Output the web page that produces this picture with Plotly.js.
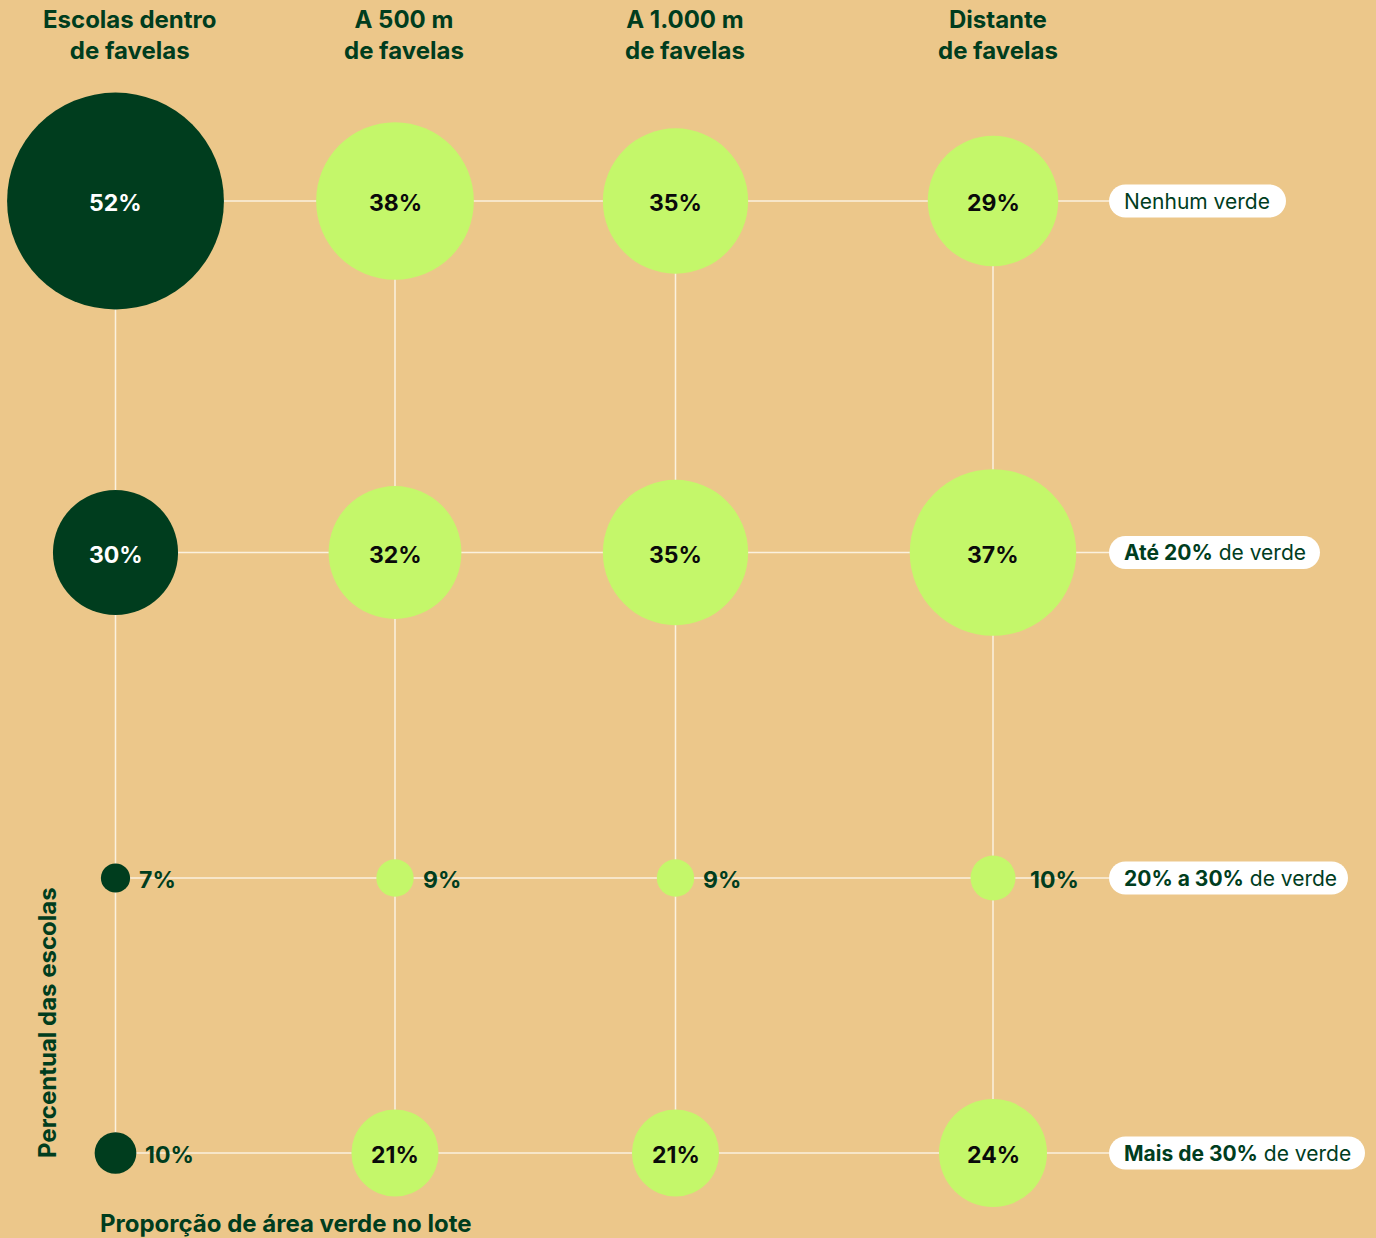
<!DOCTYPE html>
<html><head><meta charset="utf-8">
<script src="https://cdn.plot.ly/plotly-3.0.1.min.js"></script>
<style>html,body{margin:0;padding:0;background:#ECC78A;} #chart{width:1376px;height:1238px;}</style>
</head><body><div id="chart"></div>
<script>
// ---- data ----
const columns = ["Escolas dentro<br>de favelas", "A 500 m<br>de favelas", "A 1.000 m<br>de favelas", "Distante<br>de favelas"];
const rowLabels = ["Nenhum verde", "<b>Até 20%</b> de verde", "<b>20% a 30%</b> de verde", "<b>Mais de 30%</b> de verde"];
const dentro = [52, 30, 7, 10];
const a500 = [38, 32, 9, 21];
const a1000 = [35, 35, 9, 21];
const distante = [29, 37, 10, 24];
const yTitle = "Percentual das escolas";
const xTitle = "Proporção de área verde no lote";

// ---- layout / style constants ----
const series = [dentro, a500, a1000, distante];
const colX = [115.5, 395, 675.5, 993];
const rowY = [201, 552.5, 878, 1153];
const headerX = [129.5, 404, 685, 998];
const colScale = [4.17, 4.15, 4.15, 4.5];
const labelGap = [7, 7, 7, 12];
const colColor = ["#003D1E", "#C4F76A", "#C4F76A", "#C4F76A"];
const insideText = ["#FFFFFF", "#0A0A0A", "#0A0A0A", "#0A0A0A"];
const pillX0 = 1109, pillH = 33;
const pillW = [177, 211, 239, 256];
const DARK = "#003D1E";
const LINE = "#FBF1DE";
const FONT = "Inter, 'Noto Sans', sans-serif";

const traces = [];
const annotations = [];
const shapes = [];

// grid lines
rowY.forEach(y => shapes.push({type: 'line', layer: 'below', x0: colX[0], x1: pillX0, y0: y, y1: y,
  line: {color: LINE, width: 1.5}}));
colX.forEach(x => shapes.push({type: 'line', layer: 'below', x0: x, x1: x, y0: rowY[0], y1: rowY[rowY.length - 1],
  line: {color: LINE, width: 1.5}}));

// bubbles
series.forEach((vals, c) => {
  traces.push({
    type: 'scatter', mode: 'markers', hoverinfo: 'skip',
    x: vals.map(() => colX[c]), y: rowY,
    marker: {size: vals.map(v => v * colScale[c]), sizemode: 'diameter', color: colColor[c], line: {width: 0}, opacity: 1}
  });
  vals.forEach((v, r) => {
    const d = v * colScale[c];
    if (v >= 15) {
      annotations.push({x: colX[c], y: rowY[r], text: v + '%', showarrow: false, xanchor: 'center', yanchor: 'middle', yshift: -2,
        font: {family: FONT, size: 23, weight: 700, color: insideText[c]}});
    } else {
      annotations.push({x: colX[c], y: rowY[r], text: v + '%', showarrow: false, xanchor: 'left', yanchor: 'middle', xshift: d / 2 + labelGap[c], yshift: -2,
        font: {family: FONT, size: 23, weight: 700, color: DARK}});
    }
  });
});

// headers
columns.forEach((t, c) => annotations.push({x: headerX[c], y: 35, text: '<b>' + t + '</b>', showarrow: false,
  xanchor: 'center', yanchor: 'middle', align: 'center', font: {family: FONT, size: 24, weight: 700, color: DARK}}));

// row pills
const k = 0.5523;
rowLabels.forEach((t, r) => {
  const x0 = pillX0, x1 = pillX0 + pillW[r], yc = rowY[r], rr = pillH / 2, yt = yc - rr, yb = yc + rr;
  const p = `M ${x0 + rr},${yt} L ${x1 - rr},${yt} C ${x1 - rr + k * rr},${yt} ${x1},${yc - k * rr} ${x1},${yc} ` +
    `C ${x1},${yc + k * rr} ${x1 - rr + k * rr},${yb} ${x1 - rr},${yb} L ${x0 + rr},${yb} ` +
    `C ${x0 + rr - k * rr},${yb} ${x0},${yc + k * rr} ${x0},${yc} C ${x0},${yc - k * rr} ${x0 + rr - k * rr},${yt} ${x0 + rr},${yt} Z`;
  shapes.push({type: 'path', path: p, fillcolor: '#FFFFFF', line: {width: 0}, layer: 'above'});
  annotations.push({x: x0 + 13, y: yc, text: t, showarrow: false, xanchor: 'left', yanchor: 'middle',
    font: {family: FONT, size: 21, color: DARK}});
});

// axis titles
annotations.push({x: 47, y: 1023, text: '<b>' + yTitle + '</b>', textangle: -90, showarrow: false, xanchor: 'center', yanchor: 'middle',
  font: {family: FONT, size: 24, weight: 700, color: DARK}});
annotations.push({x: 98, y: 1223, text: '<b>' + xTitle + '</b>', showarrow: false, xanchor: 'left', yanchor: 'middle',
  font: {family: FONT, size: 24, weight: 700, color: DARK}});

const layout = {
  width: 1376, height: 1238,
  margin: {l: 0, r: 0, t: 0, b: 0, pad: 0},
  paper_bgcolor: '#ECC78A', plot_bgcolor: '#ECC78A',
  showlegend: false,
  xaxis: {range: [0, 1376], visible: false, fixedrange: true},
  yaxis: {range: [1238, 0], visible: false, fixedrange: true},
  shapes: shapes, annotations: annotations
};
Plotly.newPlot('chart', traces, layout, {displayModeBar: false, staticPlot: true});
</script>
</body></html>
